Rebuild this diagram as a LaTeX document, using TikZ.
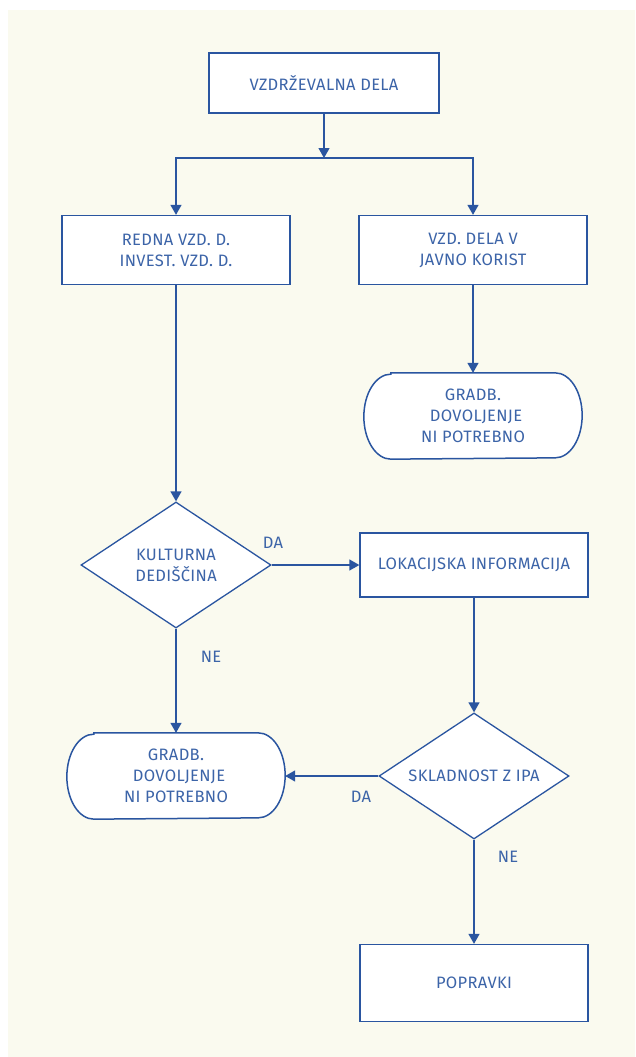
\documentclass[tikz,border=0pt]{standalone}
\usepackage{fontspec}
\setmainfont{Fira Sans}[LetterSpace=2]
\usetikzlibrary{arrows.meta,shapes.geometric,calc}
\definecolor{ink}{HTML}{2A55A0}
\definecolor{txt}{HTML}{3C64A8}
\definecolor{paper}{HTML}{FAFAEF}
\tikzset{
  base/.style={font=\fontsize{16.5}{21}\selectfont, text=txt, align=center, fill=white, line width=1.3pt, draw=ink},
  stepbox/.style={base, rectangle, minimum width=228pt},
  topbox/.style={base, rectangle, line width=2.8pt, minimum width=230pt, minimum height=60pt},
  decision/.style={base, diamond, minimum width=190pt, minimum height=126pt, inner sep=0pt, aspect=1.5},
  term/.style={base, rectangle, draw=none, fill=none, minimum width=217pt, minimum height=85pt},
  lbl/.style={font=\fontsize{16.5}{21}\selectfont, text=txt},
  arr/.style={draw=ink, line width=1.3pt, -{Triangle[length=10pt,width=11pt]}},
  ln/.style={draw=ink, line width=1.3pt},
}
% stadium outline around a term node: elliptical ends of half-width 27pt
\newcommand\stadiumpath[1]{%
  \filldraw[draw=ink, fill=white, line width=1.5pt]
    ($(#1.north west)+(27pt,0)$) -- ($(#1.north east)+(-27pt,0)$)
    arc[start angle=90, end angle=-90, x radius=27pt, y radius=42.5pt]
    -- ($(#1.south west)+(27pt,0)$)
    arc[start angle=270, end angle=90, x radius=27pt, y radius=42.5pt] -- cycle;}
\begin{document}
\begin{tikzpicture}[x=1pt,y=-1pt]
  \useasboundingbox (0,0) rectangle (635,1057);
  \fill[paper] (8,10) rectangle (635,1057);

  \node[topbox] (maint) at (324,83) {VZDRŽEVALNA DELA};
  \coordinate (split) at (324,158);

  \node[stepbox, minimum height=69pt] (regular) at (176,250) {REDNA VZD. D.\\INVEST. VZD. D.};
  \node[stepbox, minimum height=69pt] (public) at (473,250) {VZD. DELA V\\JAVNO KORIST};

  \node[term] (permitA) at (473,416) {};
  \stadiumpath{permitA}
  \node[lbl, align=center] at (permitA) {GRADB.\\\hspace*{6pt}DOVOLJENJE\\NI POTREBNO};

  \node[decision] (heritage) at (176,565) {KULTURNA\\DEDIŠČINA};
  \node[stepbox, minimum height=64pt] (location) at (474,565) {LOKACIJSKA INFORMACIJA};

  \node[decision] (ipa) at (474,776) {SKLADNOST Z IPA};

  \node[term] (permitB) at (176,776) {};
  \stadiumpath{permitB}
  \node[lbl, align=center] at (permitB) {GRADB.\\\hspace*{6pt}DOVOLJENJE\\NI POTREBNO};

  \node[stepbox, minimum height=77pt] (fixes) at (474,983) {POPRAVKI};

  % connectors
  \draw[arr] (maint) -- (split);
  \draw[arr] (split) -| (regular);
  \draw[arr] (split) -| (public);
  \draw[arr] (public) -- (permitA.north);
  \draw[arr] (regular) -- (heritage);
  \draw[arr] (heritage) -- (location);
  \draw[arr] (heritage) -- (permitB.north);
  \draw[arr] (location) -- (ipa);
  \draw[arr] (ipa) -- (permitB.east);
  \draw[arr] (ipa) -- (fixes);

  % branch labels
  \node[lbl] (yesA) at (273,543) {DA};
  \node[lbl] (noA) at (211,657) {NE};
  \node[lbl] (yesB) at (361,797) {DA};
  \node[lbl] (noB) at (508,857) {NE};
\end{tikzpicture}
\end{document}
